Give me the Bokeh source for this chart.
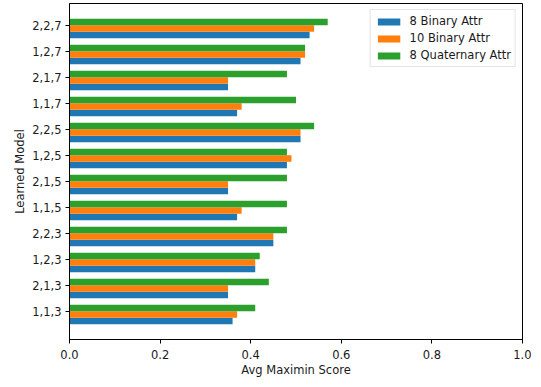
from bokeh.plotting import figure
from bokeh.models import ColumnDataSource, Range1d, FixedTicker, PrintfTickFormatter
from bokeh.transform import dodge
from bokeh.embed import file_html
from bokeh.resources import INLINE

# Categories, bottom to top
models = ["1,1,3", "2,1,3", "1,2,3", "2,2,3",
          "1,1,5", "2,1,5", "1,2,5", "2,2,5",
          "1,1,7", "2,1,7", "1,2,7", "2,2,7"]
binary8 = [0.36, 0.35, 0.41, 0.45, 0.37, 0.35, 0.48, 0.51, 0.37, 0.35, 0.51, 0.53]
binary10 = [0.37, 0.35, 0.41, 0.45, 0.38, 0.35, 0.49, 0.51, 0.38, 0.35, 0.52, 0.54]
quaternary8 = [0.41, 0.44, 0.42, 0.48, 0.48, 0.48, 0.48, 0.54, 0.50, 0.48, 0.52, 0.57]
x_ticks = [0.0, 0.2, 0.4, 0.6, 0.8, 1.0]

FONT = "DejaVu Sans"
FS = "11.5px"
TXT = "#1a1a1a"

src = ColumnDataSource(dict(idx=list(range(len(models))), b8=binary8,
                            b10=binary10, q8=quaternary8))

bw = 0.25
p = figure(width=531, height=379, output_backend="svg", toolbar_location=None,
           x_range=Range1d(0, 1), y_range=Range1d(-1.0875, 11.8375),
           min_border_left=69, min_border_right=9, min_border_top=3,
           min_border_bottom=34)

p.hbar(y=dodge("idx", -1.5 * bw), right="b8", left=0, height=bw, source=src,
       fill_color="#1f77b4", line_color=None, legend_label="8 Binary Attr")
p.hbar(y=dodge("idx", -0.5 * bw), right="b10", left=0, height=bw, source=src,
       fill_color="#ff7f0e", line_color=None, legend_label="10 Binary Attr")
p.hbar(y=dodge("idx", 0.5 * bw), right="q8", left=0, height=bw, source=src,
       fill_color="#2ca02c", line_color=None, legend_label="8 Quaternary Attr")

p.xgrid.visible = False
p.ygrid.visible = False
p.outline_line_color = "black"
p.outline_line_alpha = 1
p.outline_line_width = 1

p.xaxis.ticker = FixedTicker(ticks=x_ticks)
p.xaxis.formatter = PrintfTickFormatter(format="%.1f")
p.yaxis.ticker = FixedTicker(ticks=list(range(len(models))))
p.yaxis.major_label_overrides = {i: m for i, m in enumerate(models)}

for ax in (p.xaxis, p.yaxis):
    ax.axis_line_color = "black"
    ax.major_tick_line_color = "black"
    ax.major_tick_out = 4
    ax.major_tick_in = 0
    ax.minor_tick_line_color = None
    ax.major_label_text_font = FONT
    ax.major_label_text_font_size = FS
    ax.major_label_text_color = TXT
    ax.axis_label_text_font = FONT
    ax.axis_label_text_font_size = FS
    ax.axis_label_text_font_style = "normal"
    ax.axis_label_text_color = TXT

p.xaxis.axis_label = "Avg Maximin Score"
p.yaxis.axis_label = "Learned Model"
p.xaxis.major_label_standoff = 6
p.xaxis.axis_label_standoff = 1
p.yaxis.major_label_standoff = 4
p.yaxis.axis_label_standoff = 2

lg = p.legend[0]
lg.location = "top_right"
lg.margin = 6
lg.padding = 4
lg.spacing = 3
lg.glyph_width = 28
lg.glyph_height = 9
lg.label_height = 13
lg.label_standoff = 7
lg.label_text_font = FONT
lg.label_text_font_size = FS
lg.label_text_color = TXT
lg.border_line_color = "#cccccc"
lg.border_line_width = 1
lg.background_fill_alpha = 0.8

open("out.html", "w").write(file_html(p, INLINE))
